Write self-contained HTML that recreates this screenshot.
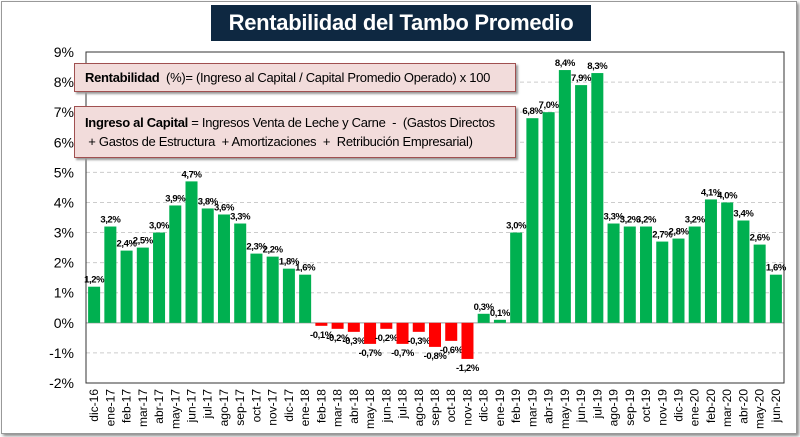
<!DOCTYPE html>
<html><head><meta charset="utf-8"><style>
body{margin:0;width:800px;height:437px;background:#fff;font-family:"Liberation Sans",Arial,sans-serif;overflow:hidden}
#frame{position:absolute;left:1px;top:1px;width:794px;height:431px;border:1px solid #999;box-shadow:2px 2px 3px #888}
.title{position:absolute;left:211px;top:5px;width:380px;height:36px;background:#0e2841;color:#fff;font-weight:bold;font-size:22px;text-align:center;line-height:36px;white-space:nowrap;letter-spacing:-0.3px}
.box{position:absolute;left:74px;width:442px;background:#f2dcdb;border:1px solid #a05050;box-shadow:2px 2px 2px #999;font-size:13px;letter-spacing:-0.3px;color:#000;padding-left:10px;box-sizing:border-box;white-space:nowrap;overflow:hidden}
</style></head><body>
<div id="frame"></div>
<svg id="chart" width="800" height="437" style="position:absolute;left:0;top:0"></svg>
<div class="title">Rentabilidad del Tambo Promedio</div>
<div class="box" style="top:63px;height:29px;line-height:27px"><b>Rentabilidad</b>&nbsp; (%)= (Ingreso al Capital / Capital Promedio Operado) x 100</div>
<div class="box" style="top:106px;height:52px;line-height:19px;padding-top:6px"><b>Ingreso al Capital</b> = Ingresos Venta de Leche y Carne&nbsp; -&nbsp; (Gastos Directos<br>&nbsp;+ Gastos de Estructura&nbsp; + Amortizaciones&nbsp; +&nbsp; Retribución Empresarial)</div>
<script>
const categories=["dic-16","ene-17","feb-17","mar-17","abr-17","may-17","jun-17","jul-17","ago-17","sep-17","oct-17","nov-17","dic-17","ene-18","feb-18","mar-18","abr-18","may-18","jun-18","jul-18","ago-18","sep-18","oct-18","nov-18","dic-18","ene-19","feb-19","mar-19","abr-19","may-19","jun-19","jul-19","ago-19","sep-19","oct-19","nov-19","dic-19","ene-20","feb-20","mar-20","abr-20","may-20","jun-20"];
const values=[1.2,3.2,2.4,2.5,3.0,3.9,4.7,3.8,3.6,3.3,2.3,2.2,1.8,1.6,-0.1,-0.2,-0.3,-0.7,-0.2,-0.7,-0.3,-0.8,-0.6,-1.2,0.3,0.1,3.0,6.8,7.0,8.4,7.9,8.3,3.3,3.2,3.2,2.7,2.8,3.2,4.1,4.0,3.4,2.6,1.6];
const yTicks=[-2,-1,0,1,2,3,4,5,6,7,8,9];
const NS="http://www.w3.org/2000/svg";
const svg=document.getElementById('chart');
const L=86,R=784,T=52,B=383,ymin=-2,ymax=9;
const y=v=>T+(ymax-v)/(ymax-ymin)*(B-T);
const step=(R-L)/categories.length;
const x=i=>L+step*(i+0.5);
function mk(tag,a){const e=document.createElementNS(NS,tag);for(const k in a)e.setAttribute(k,a[k]);svg.appendChild(e);return e;}
yTicks.forEach(t=>{
  if(t!==ymin&&t!==ymax){const g=mk('line',{x1:L,x2:R,y1:y(t),y2:y(t),stroke:t===0?'#999':'#ccc','stroke-dasharray':t===0?'':'4,3'});
  
  }
  const tx=mk('text',{x:L-12,y:y(t)+5,'text-anchor':'end','font-size':14,fill:'#000'});
  tx.textContent=t+'%';
  
  
});
const fr=mk('rect',{x:L,y:T,width:R-L,height:B-T,fill:'none',stroke:'#333','stroke-width':1});


const bw=step*0.74;
values.forEach((v,i)=>{
  const y0=y(0),yv=y(v);
  const r=mk('rect',{x:x(i)-bw/2,y:Math.min(y0,yv),width:bw,height:Math.abs(yv-y0),fill:v>=0?'#00b050':'#ff0000'});
  
  
  const lb=mk('text',{x:x(i),y:v>=0?yv-4:yv+12,'text-anchor':'middle','font-size':9.5,'letter-spacing':-0.4,'font-weight':'bold',fill:'#000'});
  lb.textContent=(v.toFixed(1)).replace('.',',')+'%';
  
  
  const cx=x(i)+4,cy=B+6;
  const xl=mk('text',{x:cx,y:cy,transform:`rotate(-90 ${cx} ${cy})`,'text-anchor':'end','font-size':12,fill:'#000'});
  xl.textContent=categories[i];
  
  
});
</script>
</body></html>
